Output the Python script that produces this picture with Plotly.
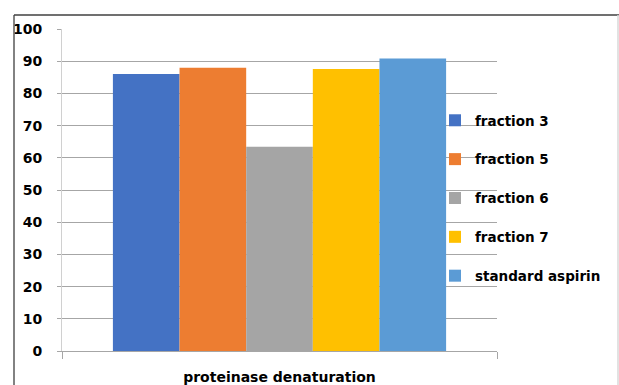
import plotly.graph_objects as go

# Chart data
category = ["proteinase denaturation"]
series_names = ["fraction 3", "fraction 5", "fraction 6", "fraction 7", "standard aspirin"]
series_values = [86.0, 88.0, 63.4, 87.6, 90.8]
series_colors = ["#4472C4", "#ED7D31", "#A5A5A5", "#FFC000", "#5B9BD5"]
y_ticks = [0, 10, 20, 30, 40, 50, 60, 70, 80, 90, 100]

W, H = 619, 385
L, R, T, B = 62, 122, 29, 34
pw, ph = W - L - R, H - T - B

FONT = "DejaVu Sans"

fig = go.Figure()
for i, (name, val, col) in enumerate(zip(series_names, series_values, series_colors)):
    fig.add_trace(go.Bar(
        x=category, y=[val], name=name,
        marker=dict(color=col, line=dict(width=0)),
        legendgroup=f"g{i}",
    ))


def px_x(p):
    return (p - L) / pw


def px_y(p):
    return (H - B - p) / ph


frame = [
    # left edge
    dict(x0=px_x(14), x1=px_x(14), y0=px_y(15), y1=px_y(385), color="#595959"),
    # top edge
    dict(x0=px_x(14), x1=px_x(619), y0=px_y(15), y1=px_y(15), color="#404040"),
    # right edge
    dict(x0=px_x(618), x1=px_x(618), y0=px_y(15), y1=px_y(385), color="#d9d9d9"),
]
shapes = [
    dict(type="line", xref="paper", yref="paper", x0=f["x0"], x1=f["x1"],
         y0=f["y0"], y1=f["y1"], line=dict(color=f["color"], width=1.5), layer="above")
    for f in frame
]

fig.update_layout(
    width=W, height=H,
    autosize=False,
    margin=dict(l=L, r=R, t=T, b=B, pad=0, autoexpand=False),
    paper_bgcolor="white", plot_bgcolor="white",
    barmode="group", bargap=0.234, bargroupgap=0,
    font=dict(family=FONT, size=14, color="#000000"),
    showlegend=True,
    legend=dict(
        xref="container", yref="container",
        x=435 / W, xanchor="left", y=1 - 105 / H, yanchor="top",
        bgcolor="rgba(0,0,0,0)", borderwidth=0,
        font=dict(family=FONT, size=13.5, color="#000000", weight="bold"),
        traceorder="grouped", tracegroupgap=18.3,
        itemwidth=30,
    ),
    shapes=shapes,
    xaxis=dict(
        type="category", showgrid=False, showline=True, linecolor="#a6a6a6", linewidth=1,
        ticks="outside", tickson="boundaries", ticklen=7, tickcolor="#a6a6a6",
        tickfont=dict(family=FONT, size=14, color="#000000", weight="bold"),
        ticklabelstandoff=13, automargin=False,
        fixedrange=True,
    ),
    yaxis=dict(
        range=[0, 100], tickvals=y_ticks, showgrid=True, gridcolor="#a6a6a6", gridwidth=1,
        showline=True, linecolor="#d0d0d0", linewidth=1,
        ticks="outside", ticklen=4, tickcolor="#a6a6a6",
        tickfont=dict(family=FONT, size=14, color="#000000", weight="bold"),
        ticklabelstandoff=12, zeroline=False, automargin=False,
        fixedrange=True,
    ),
)

page_fix = (
    "document.body.style.margin='0';"
    "document.body.style.padding='0';"
    "document.body.style.overflow='hidden';"
    "document.documentElement.style.overflow='hidden';"
)
fig.write_html("out.html", config={"displayModeBar": False}, post_script=page_fix)
